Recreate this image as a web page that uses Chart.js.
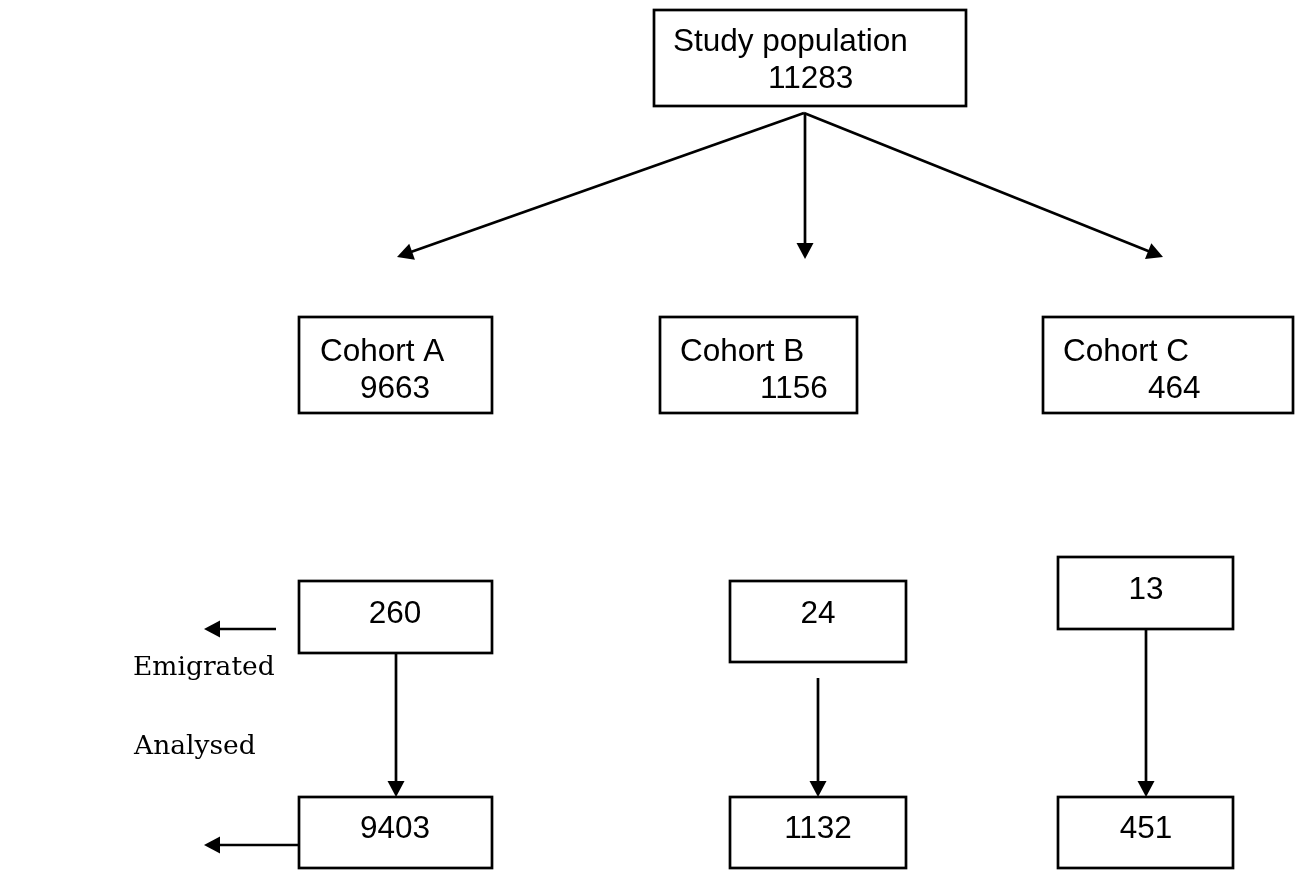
<!DOCTYPE html>
<html>
<head>
<meta charset="utf-8">
<script src="https://cdn.jsdelivr.net/npm/chart.js@4.4.1/dist/chart.umd.min.js"></script>
<style>
  html, body { margin: 0; padding: 0; background: #ffffff; }
  #wrap { width: 1295px; height: 870px; }
</style>
</head>
<body>
<div id="wrap"><canvas id="c" width="1295" height="870"></canvas></div>
<script>
// ---- data ----
const nodeTitles = ['Study population', 'Cohort A', 'Cohort B', 'Cohort C', '', '', '', '', '', ''];
const nodeCounts = [11283, 9663, 1156, 464, 260, 24, 13, 9403, 1132, 451];
const sideLabels = ['Emigrated', 'Analysed'];

// ---- layout (diagram units = pixels of the 1295x870 frame) ----
// box: [x0, y0, x1, y1]
const boxRects = [
  [654, 10, 966, 106],
  [299, 317, 492, 413],
  [660, 317, 857, 413],
  [1043, 317, 1293, 413],
  [299, 581, 492, 653],
  [730, 581, 906, 662],
  [1058, 557, 1233, 629],
  [299, 797, 492, 868],
  [730, 797, 906, 868],
  [1058, 797, 1233, 868]
];
// text anchors: [titleX, titleBaseline, countX, countBaseline, align]
const textPos = [
  [673, 51, 768, 88, 'left'],
  [320, 361, 360, 398, 'left'],
  [680, 361, 760, 398, 'left'],
  [1063, 361, 1148, 398, 'left'],
  [0, 0, 395, 623, 'center'],
  [0, 0, 818, 623, 'center'],
  [0, 0, 1146, 599, 'center'],
  [0, 0, 395, 838, 'center'],
  [0, 0, 818, 838, 'center'],
  [0, 0, 1146, 838, 'center']
];
// arrows: [fromX, fromY, toX, toY]
const arrows = [
  [804, 113, 397, 257],
  [805, 113, 805, 259],
  [804, 113, 1163, 257],
  [276, 629, 204, 629],
  [396, 653, 396, 797],
  [818, 678, 818, 797],
  [1146, 629, 1146, 797],
  [299, 845, 204, 845]
];
const sideLabelPos = [[133, 675], [134, 754]];

const HEAD = 16, HEADW = 8.5;

function shortenedEnd(a) {
  const dx = a[2] - a[0], dy = a[3] - a[1];
  const L = Math.hypot(dx, dy);
  return { x: a[2] - dx / L * (HEAD - 2), y: a[3] - dy / L * (HEAD - 2) };
}

const datasets = arrows.map(a => {
  const e = shortenedEnd(a);
  return {
    data: [{ x: a[0], y: a[1] }, e],
    showLine: true,
    borderColor: '#000',
    borderWidth: 2.7,
    pointRadius: 0,
    borderCapStyle: 'butt',
    fill: false
  };
});

const flowPlugin = {
  id: 'flow',
  afterDatasetsDraw(chart) {
    const ctx = chart.ctx;
    const xs = chart.scales.x, ys = chart.scales.y;
    const px = v => xs.getPixelForValue(v);
    const py = v => ys.getPixelForValue(v);
    ctx.save();
    // boxes
    ctx.strokeStyle = '#000';
    ctx.lineWidth = 2.7;
    boxRects.forEach(r => {
      const x0 = px(r[0]), y0 = py(r[1]), x1 = px(r[2]), y1 = py(r[3]);
      ctx.fillStyle = '#fff';
      ctx.fillRect(x0, y0, x1 - x0, y1 - y0);
      ctx.strokeRect(x0, y0, x1 - x0, y1 - y0);
    });
    // arrowheads
    ctx.fillStyle = '#000';
    arrows.forEach(a => {
      const tx = px(a[2]), ty = py(a[3]);
      const ang = Math.atan2(py(a[3]) - py(a[1]), px(a[2]) - px(a[0]));
      ctx.save();
      ctx.translate(tx, ty);
      ctx.rotate(ang);
      ctx.beginPath();
      ctx.moveTo(0, 0);
      ctx.lineTo(-HEAD, -HEADW);
      ctx.lineTo(-HEAD, HEADW);
      ctx.closePath();
      ctx.fill();
      ctx.restore();
    });
    // box texts
    ctx.fillStyle = '#000';
    ctx.textBaseline = 'alphabetic';
    ctx.font = '31.5px "Liberation Sans", Arial, sans-serif';
    nodeCounts.forEach((n, i) => {
      const t = textPos[i];
      ctx.textAlign = t[4];
      if (nodeTitles[i]) ctx.fillText(nodeTitles[i], px(t[0]), py(t[1]));
      ctx.fillText(String(n), px(t[2]), py(t[3]));
    });
    // side labels
    ctx.font = '26.5px "DejaVu Serif", serif';
    ctx.textAlign = 'left';
    sideLabels.forEach((s, i) => {
      ctx.fillText(s, px(sideLabelPos[i][0]), py(sideLabelPos[i][1]));
    });
    ctx.restore();
  }
};

new Chart(document.getElementById('c'), {
  type: 'scatter',
  data: { datasets },
  options: {
    responsive: false,
    animation: false,
    devicePixelRatio: 1,
    layout: { padding: 0 },
    plugins: { legend: { display: false }, tooltip: { enabled: false } },
    scales: {
      x: { type: 'linear', min: 0, max: 1295, display: false },
      y: { type: 'linear', min: 0, max: 870, reverse: true, display: false }
    }
  },
  plugins: [flowPlugin]
});
</script>
</body>
</html>
